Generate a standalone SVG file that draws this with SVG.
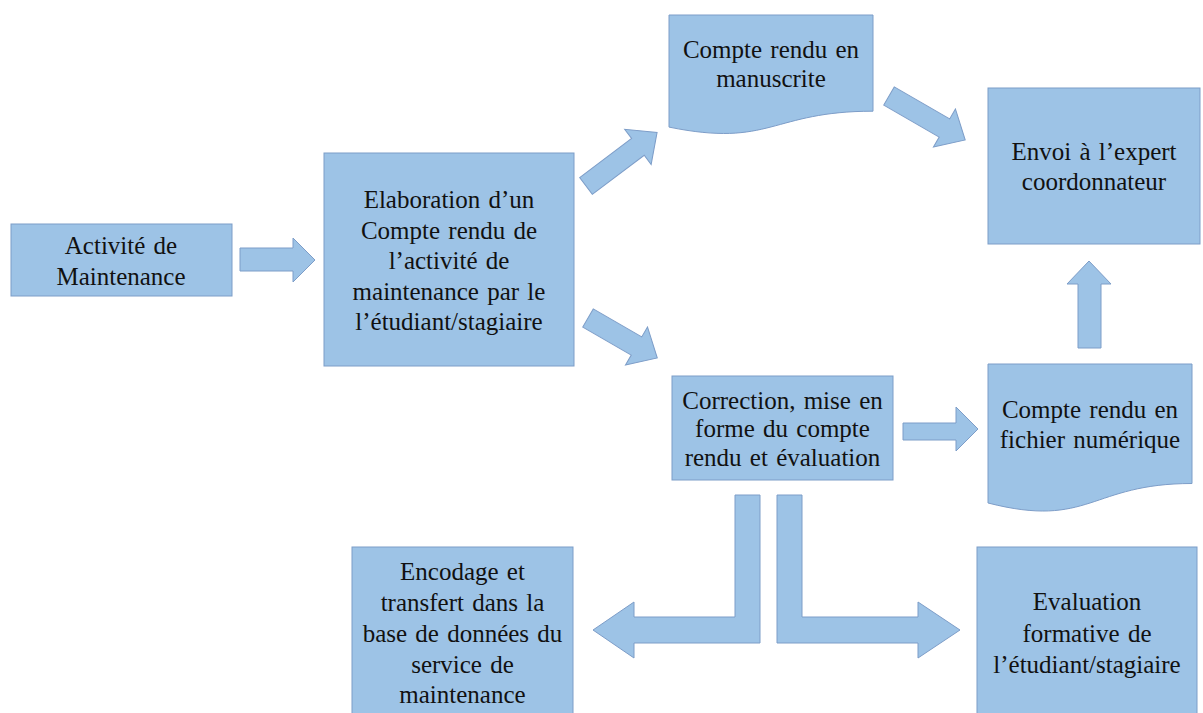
<svg xmlns="http://www.w3.org/2000/svg" width="1203" height="713" viewBox="0 0 1203 713">
<style>
.n{fill:#9dc3e6;stroke:#7d9dc8;stroke-width:1}
.a{fill:#9dc3e6;stroke:#7d9dc8;stroke-width:1}
text{font-family:"Liberation Serif","Times New Roman",serif;font-size:25px;word-spacing:2px;fill:#111;text-anchor:middle}
</style>
<rect width="1203" height="713" fill="#fff"/>
<g id="connectors">
<polygon class="a" points="240,248 293,248 293,238 315,260 293,282 293,271 240,271"/>
<g transform="translate(586,186) rotate(-37)"><polygon class="a" points="0,-10.5 65,-10.5 65,-22 89,0 65,22 65,10.5 0,10.5"/></g>
<g transform="translate(588,318) rotate(30)"><polygon class="a" points="0,-10.5 56,-10.5 56,-22 80,0 56,22 56,10.5 0,10.5"/></g>
<g transform="translate(889,96) rotate(30)"><polygon class="a" points="0,-10.5 64,-10.5 64,-22 88,0 64,22 64,10.5 0,10.5"/></g>
<polygon class="a" points="1078,348 1078,284 1067,284 1089,261 1111,284 1101,284 1101,348"/>
<polygon class="a" points="903,423 956,423 956,407 978,429 956,451 956,440 903,440"/>
<polygon class="a" points="760,495 760,643 634,643 634,658 593,630 634,602 634,617 735,617 735,495"/>
<polygon class="a" points="777,495 777,643 918,643 918,658 960,630 918,602 918,617 802,617 802,495"/>
</g>
<g id="n1"><rect class="n" x="11" y="224" width="221" height="72"/><text x="121" y="254">Activité de</text><text x="121" y="285">Maintenance</text></g>
<g id="n2"><rect class="n" x="324" y="153" width="250" height="213"/>
<text x="449" y="208">Elaboration d’un</text><text x="449" y="238.5">Compte rendu de</text><text x="449" y="269">l’activité de</text><text x="449" y="299.5">maintenance par le</text><text x="449" y="330">l’étudiant/stagiaire</text></g>
<g id="n3"><path class="n" d="M669,15 H873 V111.2 C771,111.2 771,147.9 669,127.1 Z"/><text x="771" y="58">Compte rendu en</text><text x="771" y="87">manuscrite</text></g>
<g id="n4"><rect class="n" x="988" y="88" width="212" height="156"/><text x="1094" y="160">Envoi à l’expert</text><text x="1094" y="190">coordonnateur</text></g>
<g id="n5"><rect class="n" x="672" y="376" width="221" height="104"/><text x="782.5" y="409">Correction, mise en</text><text x="782.5" y="437">forme du compte</text><text x="782.5" y="466">rendu et évaluation</text></g>
<g id="n6"><path class="n" d="M988,364 H1192 V483.5 C1090,483.5 1090,529 988,503 Z"/><text x="1090" y="418">Compte rendu en</text><text x="1090" y="448">fichier numérique</text></g>
<g id="n7"><rect class="n" x="352" y="547" width="221" height="170"/><text x="462.5" y="580">Encodage et</text><text x="462.5" y="611">transfert dans la</text><text x="462.5" y="642">base de données du</text><text x="462.5" y="673">service de</text><text x="462.5" y="703">maintenance</text></g>
<g id="n8"><rect class="n" x="977" y="547" width="220" height="170"/><text x="1087" y="610">Evaluation</text><text x="1087" y="642">formative de</text><text x="1087" y="673">l’étudiant/stagiaire</text></g>
</svg>
